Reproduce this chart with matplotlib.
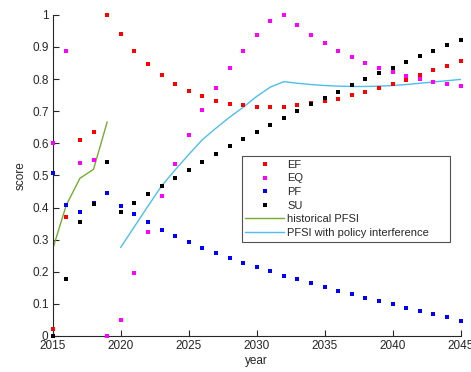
import matplotlib
matplotlib.use("Agg")
import matplotlib.pyplot as plt

plt.rcParams['font.family'] = ['Liberation Sans', 'DejaVu Sans']

years = list(range(2015, 2046))

ef = [0.023, 0.369, 0.610, 0.635, 1.000, 0.940, 0.889, 0.848, 0.813, 0.785,
      0.763, 0.746, 0.733, 0.723, 0.718, 0.713, 0.712, 0.714, 0.719, 0.724,
      0.732, 0.739, 0.749, 0.760, 0.772, 0.785, 0.798, 0.812, 0.827, 0.841,
      0.857]
eq = [0.602, 0.889, 0.540, 0.548, 0.000, 0.051, 0.196, 0.324, 0.437, 0.537,
      0.625, 0.704, 0.773, 0.834, 0.889, 0.938, 0.980, 1.000, 0.967, 0.938,
      0.912, 0.888, 0.868, 0.850, 0.835, 0.821, 0.810, 0.800, 0.791, 0.784,
      0.778]
pf = [0.509, 0.408, 0.385, 0.415, 0.445, 0.405, 0.379, 0.354, 0.331, 0.312,
      0.293, 0.275, 0.259, 0.243, 0.228, 0.214, 0.201, 0.188, 0.177, 0.164,
      0.153, 0.141, 0.130, 0.119, 0.109, 0.099, 0.088, 0.078, 0.068, 0.058,
      0.048]
su = [0.000, 0.177, 0.354, 0.412, 0.541, 0.386, 0.415, 0.441, 0.467, 0.493,
      0.518, 0.543, 0.567, 0.591, 0.614, 0.636, 0.657, 0.679, 0.700, 0.722,
      0.741, 0.761, 0.781, 0.800, 0.818, 0.836, 0.854, 0.871, 0.889, 0.906,
      0.922]

hist_years = list(range(2015, 2020))
hist_pfsi = [0.271, 0.408, 0.491, 0.519, 0.666]

policy_years = list(range(2020, 2046))
policy_pfsi = [0.276, 0.340, 0.404, 0.467, 0.517, 0.565, 0.611, 0.647, 0.681,
               0.712, 0.746, 0.775, 0.792, 0.787, 0.783, 0.780, 0.778, 0.777,
               0.777, 0.778, 0.780, 0.783, 0.787, 0.791, 0.795, 0.799]

axis_color = '#262626'

fig = plt.figure(figsize=(4.71, 3.72), dpi=100)
ax = fig.add_axes([0.112, 0.097, 0.866, 0.863])

ms = 2.2
dot_style = dict(linestyle='none', marker='s', markersize=ms,
                 markeredgewidth=0, clip_on=False, zorder=3)
ax.plot(years, ef, color='#ff0000', label='EF', **dot_style)
ax.plot(years, eq, color='#ff00ff', label='EQ', **dot_style)
ax.plot(years, pf, color='#0000ff', label='PF', **dot_style)
ax.plot(years, su, color='#000000', label='SU', **dot_style)
ax.plot(hist_years, hist_pfsi, '-', color='#77AC30', linewidth=1.0, label='historical PFSI')
ax.plot(policy_years, policy_pfsi, '-', color='#4DBEEE', linewidth=1.0,
        label='PFSI with policy interference')

ax.set_xlim(2015, 2045)
ax.set_ylim(0, 1)
ax.set_xticks(range(2015, 2046, 5))
ax.set_yticks([i / 10 for i in range(11)])
ax.set_yticklabels(['0', '0.1', '0.2', '0.3', '0.4', '0.5', '0.6', '0.7', '0.8', '0.9', '1'])

for side in ('top', 'right'):
    ax.spines[side].set_visible(False)
for side in ('left', 'bottom'):
    ax.spines[side].set_color(axis_color)
    ax.spines[side].set_linewidth(0.8)
ax.tick_params(direction='in', length=4, width=0.8, color=axis_color,
               labelcolor=axis_color, labelsize=8.5, pad=3)

ax.set_xlabel('year', fontsize=8.5, color=axis_color, labelpad=2)
ax.set_ylabel('score', fontsize=8.5, color=axis_color, labelpad=4)

leg = ax.legend(loc='lower left', bbox_to_anchor=(0.463, 0.294, 0.512, 0.272),
                mode='expand', fontsize=8.0,
                frameon=True, fancybox=False, edgecolor=axis_color,
                handlelength=3.5, handletextpad=0.25, labelspacing=0.32,
                borderpad=0.35, borderaxespad=0, markerscale=1.0)
leg.get_frame().set_linewidth(0.8)
for t in leg.get_texts():
    t.set_color(axis_color)

fig.savefig('out.png', dpi=100)
